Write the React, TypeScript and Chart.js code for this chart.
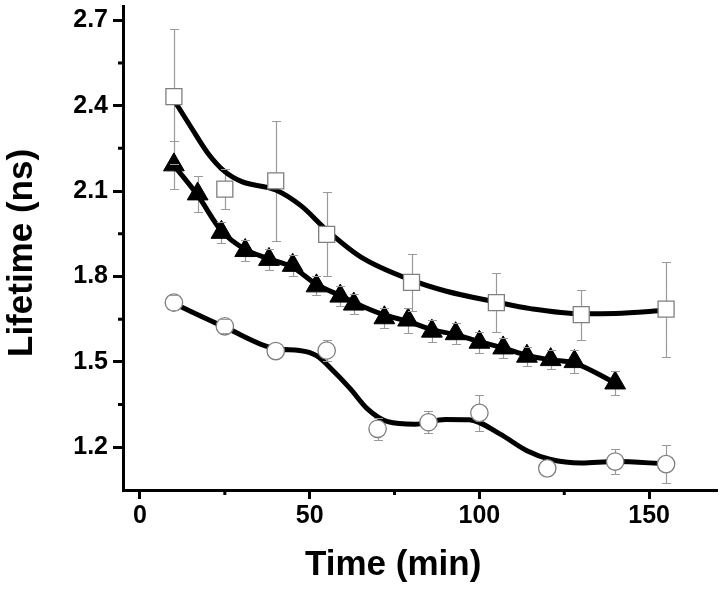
import React, { useEffect, useRef } from "react";
import { Chart, registerables } from "chart.js";

Chart.register(...registerables);

// ---- data ----
const SQUARE_X = [10, 25, 40, 55, 80, 105, 130, 155];
const SQUARE_Y = [2.432, 2.107, 2.136, 1.948, 1.779, 1.708, 1.666, 1.685];
const SQUARE_ERR = [0.238, 0.071, 0.21, 0.147, 0.1, 0.103, 0.088, 0.167];

const TRI_X = [10, 17, 24, 31, 38, 45, 52, 59, 63, 72, 79, 86, 93, 100, 107, 114, 121, 128, 140];
const TRI_Y = [2.192, 2.09, 1.955, 1.891, 1.86, 1.839, 1.767, 1.731, 1.703, 1.655, 1.647, 1.608, 1.599, 1.569, 1.549, 1.52, 1.508, 1.501, 1.426];
const TRI_ERR = [0.084, 0.062, 0.036, 0.036, 0.038, 0.038, 0.033, 0.035, 0.035, 0.035, 0.044, 0.038, 0.037, 0.037, 0.034, 0.034, 0.034, 0.039, 0.041];

const CIRCLE_X = [10, 25, 40, 55, 70, 85, 100, 120, 140, 155];
const CIRCLE_Y = [1.708, 1.625, 1.538, 1.54, 1.265, 1.288, 1.321, 1.126, 1.15, 1.141];
const CIRCLE_ERR = [0.026, 0.025, 0, 0.038, 0.039, 0.039, 0.064, 0, 0.045, 0.066];

// fitted smooth curves
const SQ_FIT_X = [10, 15, 20, 25, 30, 40, 47.5, 55, 65, 80, 90, 105, 115, 130, 140, 155];
const SQ_FIT_Y = [2.42, 2.325, 2.233, 2.168, 2.133, 2.104, 2.048, 1.963, 1.869, 1.787, 1.749, 1.71, 1.687, 1.669, 1.67, 1.681];

const TRI_FIT_X = [10, 17, 24, 31, 38, 45, 52, 59, 66, 72, 79, 86, 93, 100, 107, 114, 121, 128, 140];
const TRI_FIT_Y = [2.19, 2.085, 1.96, 1.895, 1.862, 1.832, 1.772, 1.733, 1.693, 1.665, 1.642, 1.613, 1.596, 1.571, 1.549, 1.523, 1.507, 1.496, 1.426];

const CIRCLE_FIT_X = [10, 25, 40, 47, 52, 57.5, 62, 67, 73, 81, 90, 97, 106, 114, 121, 130, 140, 155];
const CIRCLE_FIT_Y = [1.705, 1.622, 1.546, 1.54, 1.522, 1.462, 1.405, 1.335, 1.29, 1.281, 1.298, 1.297, 1.247, 1.188, 1.157, 1.145, 1.15, 1.142];

// axes
const X_MIN = -5;
const X_MAX = 170;
const Y_MIN = 1.05;
const Y_MAX = 2.75;
const X_TICKS = [0, 50, 100, 150];
const X_MINOR = [25, 75, 125];
const Y_TICKS = [1.2, 1.5, 1.8, 2.1, 2.4, 2.7];
const Y_MINOR = [1.35, 1.65, 1.95, 2.25, 2.55];

const X_TITLE = "Time (min)";
const Y_TITLE = "Lifetime (ns)";

const FONT = '"Liberation Sans", Arial, Helvetica, sans-serif';

function pts(xs: number[], ys: number[]) {
  return xs.map((x, i) => ({ x, y: ys[i] }));
}

const ERROR_SERIES = [
  { xs: SQUARE_X, ys: SQUARE_Y, errs: SQUARE_ERR, gapUp: 8, gapDown: 8 },
  { xs: TRI_X, ys: TRI_Y, errs: TRI_ERR, gapUp: 12, gapDown: 6 },
  { xs: CIRCLE_X, ys: CIRCLE_Y, errs: CIRCLE_ERR, gapUp: 8.5, gapDown: 8.5 },
];

function drawErrors(chart: any, part: "stems" | "caps") {
  const { ctx, scales } = chart;
  const xs = scales.x;
  const ys = scales.y;
  ctx.save();
  ctx.strokeStyle = "#9a9a9a";
  ctx.lineWidth = 1.2;
  ctx.beginPath();
  for (const s of ERROR_SERIES) {
    s.xs.forEach((xv: number, i: number) => {
      const e = s.errs[i];
      if (!e) return;
      const px = Math.round(xs.getPixelForValue(xv)) + 0.5;
      const py = ys.getPixelForValue(s.ys[i]);
      const top = Math.round(ys.getPixelForValue(s.ys[i] + e)) + 0.5;
      const bot = Math.round(ys.getPixelForValue(s.ys[i] - e)) + 0.5;
      if (part === "stems") {
        if (top < py - s.gapUp) {
          ctx.moveTo(px, py - s.gapUp);
          ctx.lineTo(px, top);
        }
        if (bot > py + s.gapDown) {
          ctx.moveTo(px, py + s.gapDown);
          ctx.lineTo(px, bot);
        }
      } else {
        ctx.moveTo(px - 4.5, top);
        ctx.lineTo(px + 4.5, top);
        ctx.moveTo(px - 4.5, bot);
        ctx.lineTo(px + 4.5, bot);
      }
    });
  }
  ctx.stroke();
  ctx.restore();
}

const errorBarPlugin = {
  id: "errorBars",
  beforeDatasetsDraw(chart: any) {
    drawErrors(chart, "stems");
  },
  afterDatasetsDraw(chart: any) {
    drawErrors(chart, "caps");
  },
};

const minorTicksPlugin = {
  id: "minorTicks",
  afterDraw(chart: any) {
    const { ctx, chartArea, scales } = chart;
    ctx.save();
    ctx.strokeStyle = "#000";
    ctx.lineWidth = 3;
    ctx.beginPath();
    for (const v of Y_MINOR) {
      const y = scales.y.getPixelForValue(v);
      ctx.moveTo(chartArea.left - 5, y);
      ctx.lineTo(chartArea.left, y);
    }
    for (const v of X_MINOR) {
      const x = scales.x.getPixelForValue(v);
      ctx.moveTo(x, chartArea.bottom);
      ctx.lineTo(x, chartArea.bottom + 5);
    }
    ctx.stroke();
    ctx.restore();
  },
};

const titlesPlugin = {
  id: "axisTitles",
  afterDraw(chart: any) {
    const { ctx } = chart;
    ctx.save();
    ctx.fillStyle = "#000";
    ctx.font = `bold 35px ${FONT}`;
    ctx.textBaseline = "alphabetic";
    ctx.textAlign = "left";
    ctx.fillText(X_TITLE, 305, 575);
    ctx.translate(32, 357);
    ctx.rotate(-Math.PI / 2);
    ctx.fillText(Y_TITLE, 0, 0);
    ctx.restore();
  },
};

export default function App() {
  const ref = useRef<HTMLCanvasElement | null>(null);

  useEffect(() => {
    if (!ref.current) return;
    const markerBase = {
      showLine: false,
      order: 0,
    };
    const lineBase = {
      showLine: true,
      pointRadius: 0,
      pointHoverRadius: 0,
      borderColor: "#000",
      borderWidth: 5,
      cubicInterpolationMode: "monotone" as const,
      fill: false,
      order: 1,
    };
    const chart = new Chart(ref.current, {
      type: "scatter",
      data: {
        datasets: [
          {
            ...markerBase,
            label: "squares",
            data: pts(SQUARE_X, SQUARE_Y),
            pointStyle: "rect",
            pointRadius: 11.3,
            pointHoverRadius: 11.3,
            backgroundColor: "#fff",
            borderColor: "#7f7f7f",
            borderWidth: 1.3,
          },
          {
            ...markerBase,
            label: "triangles",
            data: pts(TRI_X, TRI_Y),
            pointStyle: "triangle",
            pointRadius: 12,
            pointHoverRadius: 12,
            backgroundColor: "#000",
            borderColor: "#000",
            borderWidth: 1,
          },
          {
            ...markerBase,
            label: "circles",
            data: pts(CIRCLE_X, CIRCLE_Y),
            pointStyle: "circle",
            pointRadius: 8.7,
            pointHoverRadius: 8.7,
            backgroundColor: "#fff",
            borderColor: "#7f7f7f",
            borderWidth: 1.3,
          },
          { ...lineBase, label: "fit squares", data: pts(SQ_FIT_X, SQ_FIT_Y) },
          { ...lineBase, label: "fit triangles", data: pts(TRI_FIT_X, TRI_FIT_Y) },
          { ...lineBase, label: "fit circles", data: pts(CIRCLE_FIT_X, CIRCLE_FIT_Y) },
        ] as any,
      },
      options: {
        animation: false,
        responsive: false,
        events: [],
        layout: { autoPadding: false, padding: { left: 0, top: 6, right: 7, bottom: 0 } },
        plugins: {
          legend: { display: false },
          tooltip: { enabled: false },
          title: { display: false },
        },
        scales: {
          x: {
            type: "linear",
            min: X_MIN,
            max: X_MAX,
            afterBuildTicks: (s: any) => {
              s.ticks = X_TICKS.map((v) => ({ value: v }));
            },
            afterFit: (s: any) => {
              s.height = 99;
              s.paddingLeft = 0;
              s.paddingRight = 0;
            },
            grid: {
              display: true,
              drawOnChartArea: false,
              drawTicks: true,
              tickLength: 9,
              tickWidth: 3,
              tickColor: "#000",
            },
            border: { display: true, width: 3, color: "#000" },
            ticks: {
              font: { family: FONT, size: 25, weight: "bold", lineHeight: 0.4 },
              color: "#000",
              padding: 12,
              maxRotation: 0,
              autoSkip: false,
              callback: (v: any) => String(v),
            },
          },
          y: {
            type: "linear",
            min: Y_MIN,
            max: Y_MAX,
            afterBuildTicks: (s: any) => {
              s.ticks = Y_TICKS.map((v) => ({ value: v }));
            },
            afterFit: (s: any) => {
              s.width = 123;
              s.paddingTop = 0;
              s.paddingBottom = 0;
            },
            grid: {
              display: true,
              drawOnChartArea: false,
              drawTicks: true,
              tickLength: 10,
              tickWidth: 3,
              tickColor: "#000",
            },
            border: { display: true, width: 3, color: "#000" },
            ticks: {
              font: { family: FONT, size: 25, weight: "bold", lineHeight: 0.4 },
              color: "#000",
              padding: 5,
              autoSkip: false,
              callback: (v: any) => Number(v).toFixed(1),
            },
          },
        },
      } as any,
      plugins: [errorBarPlugin, minorTicksPlugin, titlesPlugin],
    });
    return () => chart.destroy();
  }, []);

  return (
    <div style={{ position: "fixed", left: 0, top: 0, width: 724, height: 589, background: "#fff" }}>
      <canvas ref={ref} width={724} height={589} style={{ display: "block", width: 724, height: 589 }} />
    </div>
  );
}
